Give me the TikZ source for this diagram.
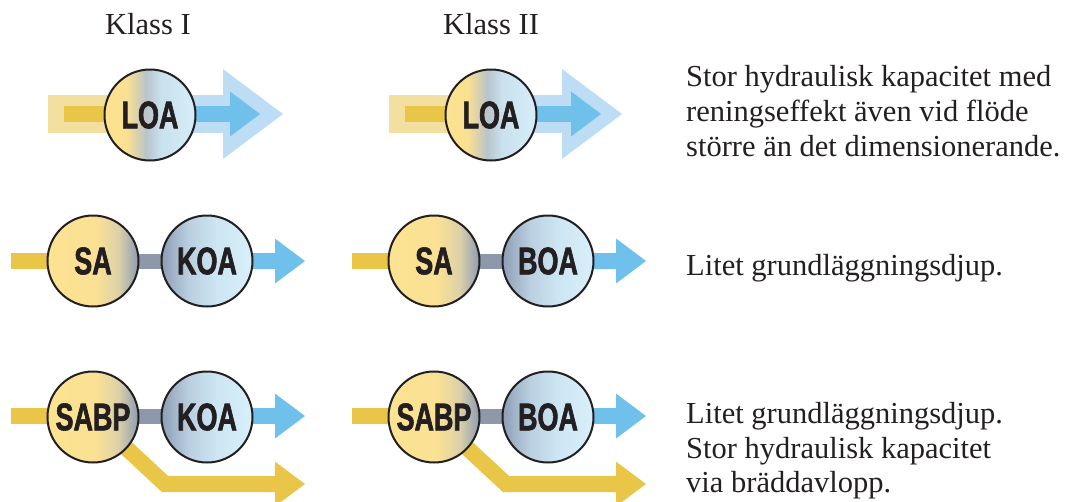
\documentclass[tikz,border=0pt]{standalone}
\usepackage{fontspec}
\setmainfont{Liberation Serif}
\newfontfamily\condfont{Liberation Sans}[FakeStretch=0.7, BoldFeatures={FakeStretch=0.7, FakeBold=1.6}]
\usetikzlibrary{arrows.meta,backgrounds}
\definecolor{yel}{RGB}{233,198,72}
\definecolor{paleyel}{RGB}{243,223,160}
\definecolor{blu}{RGB}{111,192,235}
\definecolor{paleblu}{RGB}{189,221,244}
\definecolor{gry}{RGB}{141,152,171}
\definecolor{ink}{RGB}{35,31,32}
\pgfdeclarehorizontalshading{loaShade}{100bp}{rgb(0bp)=(0.99,0.89,0.56); rgb(25bp)=(0.99,0.89,0.56); rgb(37bp)=(0.98,0.88,0.57); rgb(43bp)=(0.85,0.82,0.68); rgb(48bp)=(0.72,0.77,0.80); rgb(56bp)=(0.79,0.88,0.93); rgb(75bp)=(0.84,0.93,0.98); rgb(100bp)=(0.84,0.93,0.98)}
\pgfdeclarehorizontalshading{saShade}{100bp}{rgb(0bp)=(0.99,0.89,0.57); rgb(25bp)=(0.99,0.89,0.57); rgb(52bp)=(0.98,0.88,0.58); rgb(64bp)=(0.86,0.82,0.66); rgb(75bp)=(0.55,0.61,0.70); rgb(100bp)=(0.55,0.61,0.70)}
\pgfdeclarehorizontalshading{koaShade}{100bp}{rgb(0bp)=(0.55,0.62,0.71); rgb(25bp)=(0.55,0.62,0.71); rgb(40bp)=(0.73,0.81,0.88); rgb(55bp)=(0.80,0.90,0.95); rgb(75bp)=(0.85,0.94,0.98); rgb(100bp)=(0.85,0.94,0.98)}
\tikzset{
  unit/.style={circle, draw=ink, line width=2pt, minimum size=91pt, inner sep=0pt,
    font=\condfont\bfseries\fontsize{38.5}{38.5}\selectfont, text=ink},
  loa/.style={unit, shading=loaShade},
  sa/.style={unit, shading=saShade},
  koa/.style={unit, shading=koaShade},
  txt/.style={anchor=base west, inner sep=0pt, text=ink, font=\fontsize{30.5}{35}\selectfont},
  ttl/.style={anchor=base west, inner sep=0pt, text=ink, font=\fontsize{30.5}{35}\selectfont},
  paleband/.style={draw=paleyel, line width=38pt},
  yelline/.style={draw=yel, line width=16pt},
  gryline/.style={draw=gry, line width=15pt},
  bigarrow/.style={draw=paleblu, line width=38pt, -{Triangle[length=60pt,width=90pt,line width=0pt]}},
  bluarrow/.style={draw=blu, line width=16pt, -{Triangle[length=30pt,width=45pt,line width=0pt]}},
  yelarrow/.style={draw=yel, line width=16pt, line join=miter, -{Triangle[length=30pt,width=45pt,line width=0pt]}},
}
\begin{document}
\begin{tikzpicture}[x=1pt,y=-1pt]
\useasboundingbox (0,0) rectangle (1071,501);
% titles
\node[ttl] (k1) at (105,34) {Klass I};
\node[ttl] (k2) at (443,34) {Klass II};
% units
\node[loa] (loa1) at (150,115) {LOA};
\node[loa] (loa2) at (491,115) {LOA};
\node[sa]  (sa1)  at (93,261)  {SA};
\node[koa] (koa1) at (207,261) {KOA};
\node[sa]  (sa2)  at (434,261) {SA};
\node[koa] (boa2) at (548,261) {BOA};
\node[sa]  (sabp1) at (93,417)  {SABP};
\node[koa] (koa3)  at (207,417) {KOA};
\node[sa]  (sabp2) at (434,417) {SABP};
\node[koa] (boa3)  at (548,417) {BOA};
% free ends
\coordinate (p1s) at (48,114);   \coordinate (y1s) at (64,114);
\coordinate (p1e) at (283,114);  \coordinate (b1e) at (260,114);
\coordinate (p2s) at (389,114);  \coordinate (y2s) at (405,114);
\coordinate (p2e) at (622,114);  \coordinate (b2e) at (601,114);
\coordinate (r2a) at (11,261);   \coordinate (r2b) at (305,261);
\coordinate (r2c) at (352,261);  \coordinate (r2d) at (646,261);
\coordinate (r3a) at (11,416);   \coordinate (r3b) at (305,416);
\coordinate (r3c) at (352,416);  \coordinate (r3d) at (646,416);
\coordinate (bend1) at (165,484); \coordinate (by1) at (305,484);
\coordinate (bend2) at (506,484); \coordinate (by2) at (646,484);
\begin{pgfonlayer}{background}
  % row 1
  \draw[paleband] (p1s) -- (p1s -| loa1.center);
  \draw[yelline] (y1s) -- (y1s -| loa1.center);
  \draw[bigarrow] (p1e -| loa1.center) -- (p1e);
  \draw[bluarrow] (b1e -| loa1.center) -- (b1e);
  \draw[paleband] (p2s) -- (p2s -| loa2.center);
  \draw[yelline] (y2s) -- (y2s -| loa2.center);
  \draw[bigarrow] (p2e -| loa2.center) -- (p2e);
  \draw[bluarrow] (b2e -| loa2.center) -- (b2e);
  % row 2
  \draw[yelline] (r2a) -- (sa1.center);
  \draw[gryline] (sa1.center) -- (koa1.center);
  \draw[bluarrow] (koa1.center) -- (r2b);
  \draw[yelline] (r2c) -- (sa2.center);
  \draw[gryline] (sa2.center) -- (boa2.center);
  \draw[bluarrow] (boa2.center) -- (r2d);
  % row 3
  \draw[yelline] (r3a) -- (r3a -| sabp1.center);
  \draw[yelarrow] (sabp1.center) -- (bend1) -- (by1);
  \draw[gryline] (r3a -| sabp1.center) -- (r3a -| koa3.center);
  \draw[bluarrow] (r3b -| koa3.center) -- (r3b);
  \draw[yelline] (r3c) -- (r3c -| sabp2.center);
  \draw[yelarrow] (sabp2.center) -- (bend2) -- (by2);
  \draw[gryline] (r3c -| sabp2.center) -- (r3c -| boa3.center);
  \draw[bluarrow] (r3d -| boa3.center) -- (r3d);
\end{pgfonlayer}
% descriptions
\node[txt] (d1a) at (686,86)  {Stor hydraulisk kapacitet med};
\node[txt] (d1b) at (686,121) {reningseffekt även vid flöde};
\node[txt] (d1c) at (686,156) {större än det dimensionerande.};
\node[txt] (d2a) at (686,275) {Litet grundläggningsdjup.};
\node[txt] (d3a) at (686,423) {Litet grundläggningsdjup.};
\node[txt] (d3b) at (686,458) {Stor hydraulisk kapacitet};
\node[txt] (d3c) at (686,492) {via bräddavlopp.};
\end{tikzpicture}
\end{document}
